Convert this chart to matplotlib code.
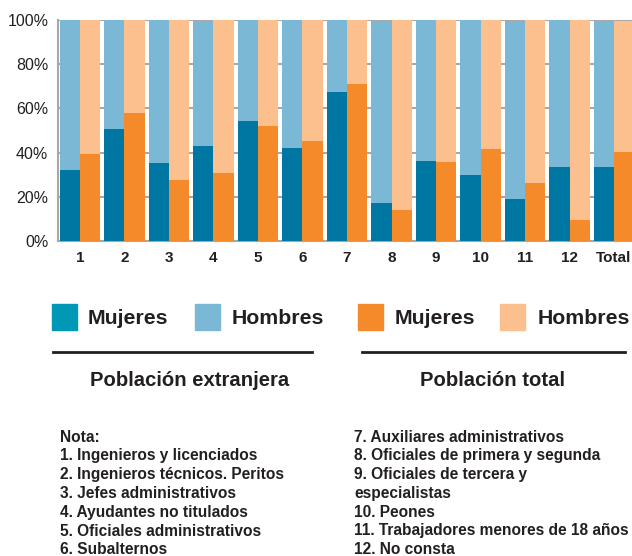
import matplotlib.pyplot as plt
from matplotlib.patches import Rectangle
from matplotlib.lines import Line2D
import numpy as np

plt.rcParams['font.family'] = ['Liberation Sans', 'DejaVu Sans']

categorias = ["1", "2", "3", "4", "5", "6", "7", "8", "9", "10", "11", "12", "Total"]
# Población extranjera (%)
ext_mujeres = [32.1, 50.7, 35.3, 43.0, 54.3, 42.1, 67.4, 17.2, 36.2, 29.9, 19.0, 33.5, 33.5]
ext_hombres = [67.9, 49.3, 64.7, 56.5, 45.7, 57.9, 32.6, 82.3, 63.8, 70.1, 80.5, 66.5, 66.0]
# Población total (%)
tot_mujeres = [39.4, 57.9, 27.6, 30.8, 52.0, 45.2, 71.0, 14.0, 35.7, 41.6, 26.2, 9.5, 40.3]
tot_hombres = [60.6, 42.1, 72.4, 69.2, 48.0, 54.8, 29.0, 86.0, 64.3, 58.4, 73.8, 90.5, 59.2]

notas_izq = ["Nota:", "1. Ingenieros y licenciados", "2. Ingenieros técnicos. Peritos",
             "3. Jefes administrativos", "4. Ayudantes no titulados",
             "5. Oficiales administrativos", "6. Subalternos"]
notas_der = ["7. Auxiliares administrativos", "8. Oficiales de primera y segunda",
             "9. Oficiales de tercera y", "especialistas", "10. Peones",
             "11. Trabajadores menores de 18 años", "12. No consta"]

c_azul = "#0077a3"
c_azul_leg = "#0098b5"
c_azul_cl = "#7ab8d6"
c_nar = "#f58a2a"
c_nar_cl = "#fbc08d"
c_txt = "#231f20"

W, H = 632, 556
fig = plt.figure(figsize=(W / 100, H / 100), dpi=100)

def fx(x):
    return x / W

def fy(y):
    return 1 - y / H

ax = fig.add_axes([fx(58), fy(241), fx(632 - 58), (241 - 20) / H])
x = np.arange(len(categorias))
w = 0.45
ax.bar(x - w / 2, ext_mujeres, w, color=c_azul, zorder=3)
ax.bar(x - w / 2, ext_hombres, w, bottom=ext_mujeres, color=c_azul_cl, zorder=3)
ax.bar(x + w / 2, tot_mujeres, w, color=c_nar, zorder=3)
ax.bar(x + w / 2, tot_hombres, w, bottom=tot_mujeres, color=c_nar_cl, zorder=3)

ax.set_xlim(-0.494, 12.404)
ax.set_ylim(0, 100)
ax.set_yticks([0, 20, 40, 60, 80, 100])
ax.set_yticklabels([f"{v}%" for v in [0, 20, 40, 60, 80, 100]], fontsize=11.5, color=c_txt)
ax.set_xticks(x)
ax.set_xticklabels(categorias, fontsize=11, fontweight="bold", color=c_txt)
ax.tick_params(length=0, pad=7)
ax.yaxis.grid(True, color="#a8a8a8", lw=1.5, zorder=0)
for s in ["top", "right"]:
    ax.spines[s].set_visible(False)
for s in ["left", "bottom"]:
    ax.spines[s].set_color("#a8a8a8")
    ax.spines[s].set_linewidth(1.5)

# Leyenda
leyenda = [(52, c_azul_leg, 88, "Mujeres"), (195, c_azul_cl, 232, "Hombres"),
           (358, c_nar, 395, "Mujeres"), (500, c_nar_cl, 538, "Hombres")]
for xs, col, xt, lab in leyenda:
    fig.patches.append(Rectangle((fx(xs), fy(330)), 25 / W, 26 / H, color=col,
                                 transform=fig.transFigure))
    fig.text(fx(xt), fy(318), lab, fontsize=15.3, fontweight="bold", color=c_txt,
             va="center", ha="left")

for x0, x1 in [(53, 312), (362, 625)]:
    fig.add_artist(Line2D([fx(x0), fx(x1)], [fy(352), fy(352)], color=c_txt, lw=2,
                          transform=fig.transFigure))
fig.text(fx(190), fy(380), "Población extranjera", fontsize=14.6, fontweight="bold",
         color=c_txt, ha="center", va="center")
fig.text(fx(492), fy(380), "Población total", fontsize=14.6, fontweight="bold",
         color=c_txt, ha="center", va="center")

for i, t in enumerate(notas_izq):
    fig.text(fx(60), fy(437 + i * 18.8), t, fontsize=11.2, fontweight="bold",
             color=c_txt, ha="left", va="center")
for i, t in enumerate(notas_der):
    fig.text(fx(354), fy(437 + i * 18.8), t, fontsize=11.2, fontweight="bold",
             color=c_txt, ha="left", va="center")

fig.savefig("out.png", dpi=100)
